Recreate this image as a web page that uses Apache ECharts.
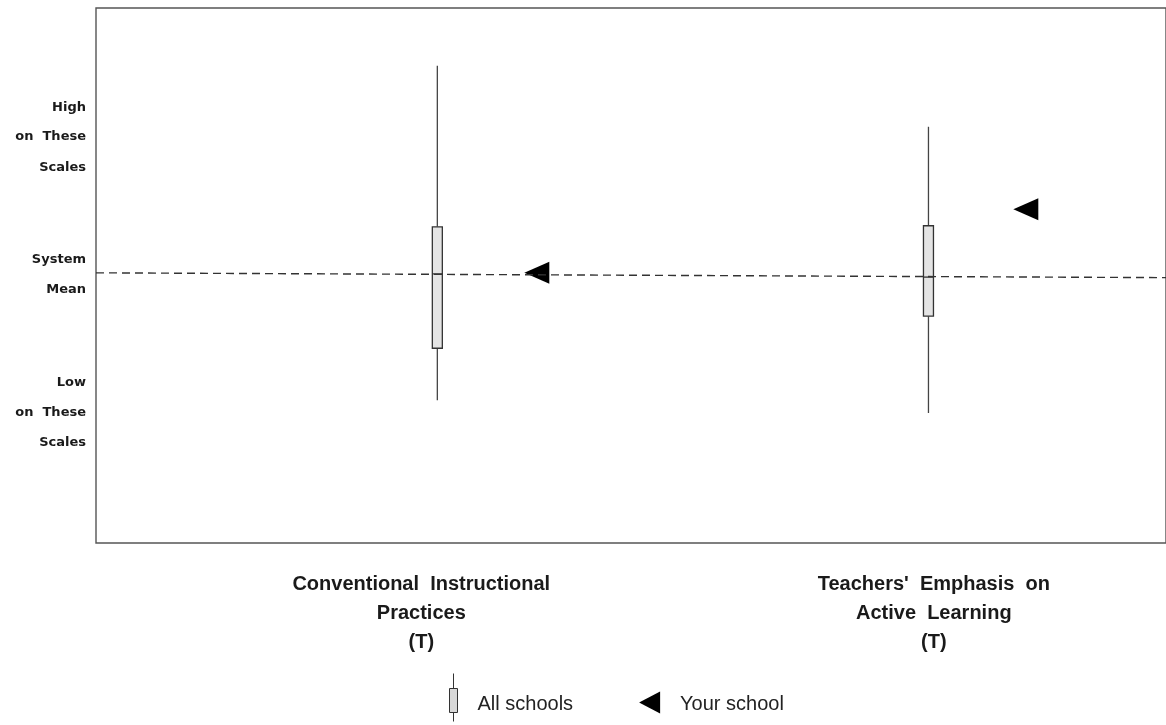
<!DOCTYPE html>
<html>
<head>
<meta charset="utf-8">
<script src="https://cdn.jsdelivr.net/npm/echarts@6/dist/echarts.min.js"></script>
<style>
html, body { margin: 0; padding: 0; background: #fff; }
#chart { width: 1166px; height: 725px; }
</style>
</head>
<body>
<div id="chart"></div>
<script>
// scale positions (0-100)
var scaleX = [31.9, 77.8];
var scaleNames = ['Conventional  Instructional\nPractices\n(T)', "Teachers'  Emphasis  on\nActive  Learning\n(T)"];
var scaleLabelX = [30.4, 78.3];
var whiskerLow = [26.7, 24.3];
var boxLow = [36.4, 42.4];
var boxMid = [50.3, 49.7];
var boxHigh = [59.1, 59.3];
var whiskerHigh = [89.2, 77.8];

var schoolX = [41.2, 86.9];
var schoolY = [50.5, 62.4];

var meanLine = [50.5, 49.6];

var yLabelValues = [81.3, 75.9, 70.1, 52.9, 47.3, 29.9, 24.3, 18.7];
var yLabelTexts = ['High', 'on  These', 'Scales', 'System', 'Mean', 'Low', 'on  These', 'Scales'];

var dom = document.getElementById('chart');
var myChart = echarts.init(dom);

var boxData = scaleX.map(function (x, i) {
    return [x, whiskerLow[i], boxLow[i], boxMid[i], boxHigh[i], whiskerHigh[i]];
});
var schoolData = schoolX.map(function (x, i) { return [x, schoolY[i]]; });

function renderBox(params, api) {
    var x = api.value(0);
    var pLow = api.coord([x, api.value(1)]);
    var pQ1 = api.coord([x, api.value(2)]);
    var pMed = api.coord([x, api.value(3)]);
    var pQ3 = api.coord([x, api.value(4)]);
    var pHigh = api.coord([x, api.value(5)]);
    var half = 5;
    var line = { stroke: '#444', lineWidth: 1.3 };
    return {
        type: 'group',
        children: [
            { type: 'line', shape: { x1: pHigh[0], y1: pHigh[1], x2: pQ3[0], y2: pQ3[1] }, style: line },
            { type: 'line', shape: { x1: pQ1[0], y1: pQ1[1], x2: pLow[0], y2: pLow[1] }, style: line },
            { type: 'rect', shape: { x: pQ3[0] - half, y: pQ3[1], width: half * 2, height: pQ1[1] - pQ3[1] },
              style: { fill: '#e4e4e4', stroke: '#333', lineWidth: 1.3 } },
            { type: 'line', shape: { x1: pMed[0] - half, y1: pMed[1], x2: pMed[0] + half, y2: pMed[1] }, style: { stroke: '#333', lineWidth: 1.3 } }
        ]
    };
}

var option = {
    animation: false,
    grid: {
        left: 96, top: 8, right: -2, bottom: 182,
        show: true, borderColor: '#555', borderWidth: 1.4, backgroundColor: '#fff'
    },
    legend: {
        left: 436, top: 673, padding: 0,
        itemWidth: 34, itemHeight: 48, itemGap: 66,
        formatter: '{t|{name}}',
        textStyle: {
            rich: { t: { fontFamily: 'Liberation Sans', fontSize: 20, color: '#222', padding: [14, 0, 0, 2] } }
        },
        data: [
            { name: 'All schools',
              icon: 'path://M0,0 M34,48 M17,0 L17,15 M13,15 L21,15 L21,39 L13,39 Z M17,39 L17,48',
              itemStyle: { color: '#d8d8d8', borderColor: '#333', borderWidth: 1 } },
            { name: 'Your school',
              icon: 'path://M0,0 M34,48 M21,18 L21,40 L0,29 Z',
              itemStyle: { color: '#000', opacity: 1 } }
        ]
    },
    xAxis: {
        type: 'value', min: 0, max: 100,
        axisLine: { show: false }, axisTick: { show: false }, splitLine: { show: false },
        axisLabel: {
            customValues: scaleLabelX,
            margin: 27,
            fontFamily: 'Liberation Sans', fontWeight: 'bold', fontSize: 20, lineHeight: 29,
            color: '#1a1a1a', align: 'center',
            formatter: function (v) { return scaleNames[scaleLabelX.indexOf(v)] || ''; }
        }
    },
    yAxis: {
        type: 'value', min: 0, max: 100,
        axisLine: { show: false }, axisTick: { show: false }, splitLine: { show: false },
        axisLabel: {
            customValues: yLabelValues,
            margin: 10,
            fontFamily: 'DejaVu Sans', fontWeight: 'bold', fontSize: 13,
            color: '#1a1a1a',
            formatter: function (v) { return yLabelTexts[yLabelValues.indexOf(v)] || ''; }
        }
    },
    series: [
        {
            name: 'All schools',
            type: 'custom',
            renderItem: renderBox,
            encode: { x: 0, y: [1, 2, 3, 4, 5] },
            itemStyle: { color: '#d8d8d8' },
            data: boxData,
            z: 3,
            markLine: {
                silent: true,
                symbol: 'none',
                label: { show: false },
                lineStyle: { color: '#333', type: [8, 5], width: 1.4 },
                data: [[{ coord: [0, meanLine[0]] }, { coord: [100, meanLine[1]] }]]
            }
        },
        {
            name: 'Your school',
            type: 'scatter',
            symbol: 'triangle',
            symbolRotate: 90,
            symbolSize: [22, 25],
            itemStyle: { color: '#000', opacity: 1 },
            data: schoolData,
            z: 4
        }
    ]
};
myChart.setOption(option, true);
</script>
</body>
</html>
